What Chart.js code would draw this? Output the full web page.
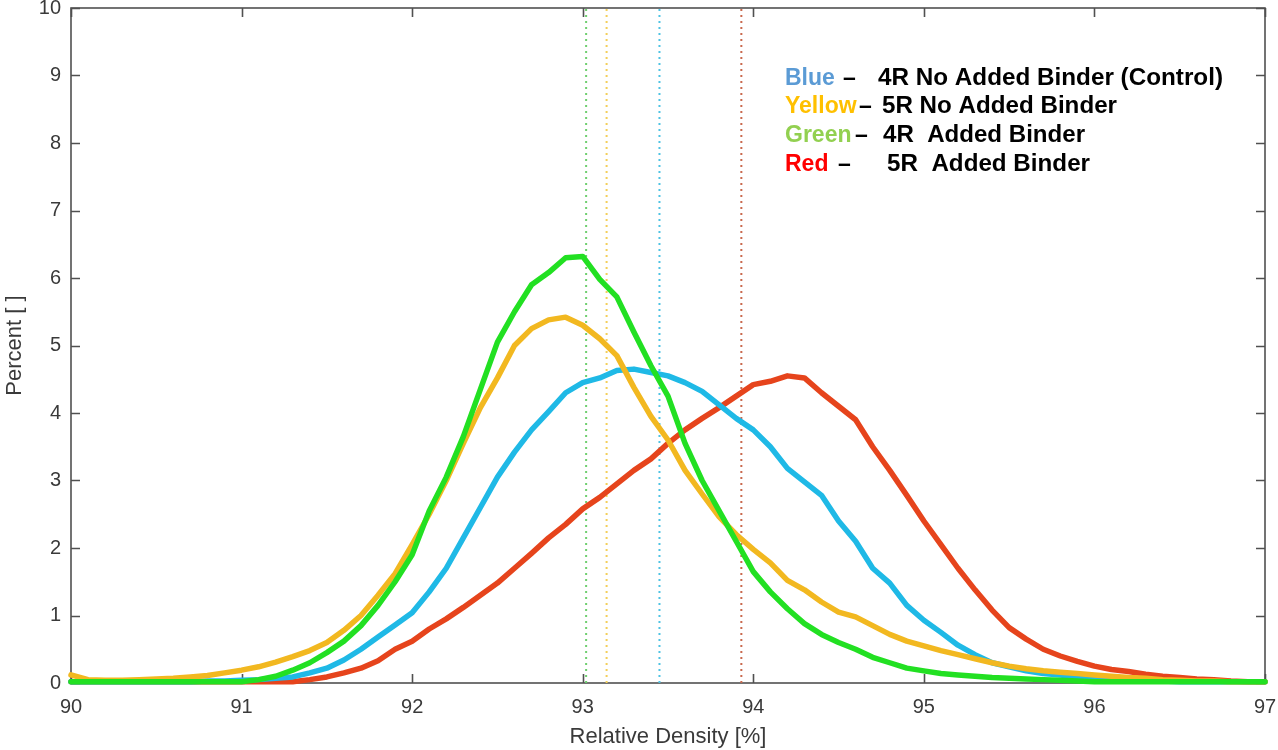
<!DOCTYPE html>
<html lang="en">
<head>
    <meta charset="UTF-8">
    <title>Relative Density</title>
    <script src="https://cdn.jsdelivr.net/npm/chart.js"></script>
    <style>
        html, body { margin: 0; padding: 0; background: #fff; }
        #wrap { width: 1278px; height: 750px; }
    </style>
</head>
<body>
    <div id="wrap"><canvas id="densityChart"></canvas></div>

    <script>
        // bins of relative density [%]
        const densityBins = [
            90.0, 90.1, 90.2, 90.3, 90.4, 90.5, 90.6, 90.7, 90.8, 90.9,
            91.0, 91.1, 91.2, 91.3, 91.4, 91.5, 91.6, 91.7, 91.8, 91.9,
            92.0, 92.1, 92.2, 92.3, 92.4, 92.5, 92.6, 92.7, 92.8, 92.9,
            93.0, 93.1, 93.2, 93.3, 93.4, 93.5, 93.6, 93.7, 93.8, 93.9,
            94.0, 94.1, 94.2, 94.3, 94.4, 94.5, 94.6, 94.7, 94.8, 94.9,
            95.0, 95.1, 95.2, 95.3, 95.4, 95.5, 95.6, 95.7, 95.8, 95.9,
            96.0, 96.1, 96.2, 96.3, 96.4, 96.5, 96.6, 96.7, 96.8, 96.9,
            97.0
        ];

        // Blue - 4R no added binder (control)
        const blueValues = [
            0.02, 0.02, 0.02, 0.02, 0.02, 0.02, 0.02, 0.02, 0.03, 0.03,
            0.04, 0.05, 0.07, 0.09, 0.15, 0.22, 0.34, 0.50, 0.68, 0.86,
            1.04, 1.35, 1.70, 2.15, 2.60, 3.05, 3.42, 3.75, 4.02, 4.30,
            4.45, 4.52, 4.63, 4.65, 4.60, 4.55, 4.45, 4.32, 4.12, 3.92,
            3.75, 3.50, 3.18, 2.98, 2.78, 2.40, 2.10, 1.70, 1.48, 1.15,
            0.93, 0.75, 0.56, 0.42, 0.30, 0.24, 0.18, 0.14, 0.12, 0.09,
            0.07, 0.05, 0.04, 0.03, 0.03, 0.02, 0.02, 0.02, 0.02, 0.02,
            0.02
        ];

        // Yellow - 5R no added binder
        const yellowValues = [
            0.12, 0.05, 0.04, 0.04, 0.05, 0.06, 0.07, 0.09, 0.11, 0.15,
            0.19, 0.24, 0.31, 0.39, 0.48, 0.60, 0.78, 1.00, 1.30, 1.62,
            2.05, 2.50, 3.00, 3.55, 4.08, 4.52, 5.00, 5.25, 5.38, 5.42,
            5.30, 5.10, 4.85, 4.38, 3.95, 3.60, 3.15, 2.80, 2.46, 2.20,
            1.98, 1.78, 1.52, 1.38, 1.20, 1.05, 0.98, 0.85, 0.72, 0.62,
            0.55, 0.48, 0.42, 0.36, 0.30, 0.25, 0.21, 0.18, 0.16, 0.14,
            0.12, 0.10, 0.08, 0.07, 0.05, 0.04, 0.03, 0.03, 0.02, 0.02,
            0.02
        ];

        // Green - 4R added binder
        const greenValues = [
            0.02, 0.02, 0.02, 0.02, 0.02, 0.02, 0.02, 0.02, 0.02, 0.02,
            0.02, 0.05, 0.10, 0.19, 0.30, 0.45, 0.62, 0.85, 1.15, 1.50,
            1.90, 2.55, 3.05, 3.65, 4.35, 5.05, 5.50, 5.90, 6.08, 6.30,
            6.32, 5.98, 5.72, 5.20, 4.70, 4.25, 3.55, 3.00, 2.55, 2.10,
            1.65, 1.35, 1.10, 0.88, 0.72, 0.60, 0.50, 0.38, 0.30, 0.22,
            0.18, 0.14, 0.12, 0.10, 0.08, 0.07, 0.06, 0.05, 0.04, 0.03,
            0.02, 0.02, 0.02, 0.02, 0.02, 0.02, 0.02, 0.02, 0.02, 0.02,
            0.02
        ];

        // Red - 5R added binder
        const redValues = [
            0.02, 0.02, 0.02, 0.02, 0.02, 0.02, 0.02, 0.02, 0.02, 0.02,
            0.02, 0.02, 0.02, 0.02, 0.05, 0.09, 0.15, 0.22, 0.33, 0.50,
            0.62, 0.80, 0.95, 1.12, 1.30, 1.48, 1.70, 1.92, 2.15, 2.35,
            2.58, 2.75, 2.95, 3.15, 3.32, 3.55, 3.75, 3.92, 4.08, 4.25,
            4.42, 4.47, 4.55, 4.52, 4.30, 4.10, 3.90, 3.50, 3.15, 2.78,
            2.40, 2.05, 1.70, 1.38, 1.08, 0.82, 0.65, 0.50, 0.40, 0.32,
            0.25, 0.20, 0.17, 0.13, 0.10, 0.08, 0.06, 0.05, 0.03, 0.02,
            0.02
        ];

        // mean relative density of each series (dotted lines)
        const meanNames = ['Blue', 'Yellow', 'Green', 'Red'];
        const meanValues = [93.45, 93.14, 93.02, 93.93];

        const xTicks = [90, 91, 92, 93, 94, 95, 96, 97];
        const yTicks = [0, 1, 2, 3, 4, 5, 6, 7, 8, 9, 10];

        // legend text (colour word, dash, description)
        const legendNames = ['Blue', 'Yellow', 'Green', 'Red'];
        const legendTexts = ['4R No Added Binder (Control)', '5R No Added Binder', '4R  Added Binder', '5R  Added Binder'];
        const legendNameColors = ['#5b9bd5', '#ffc000', '#92d050', '#ff0000'];
        // layout of the legend pieces: [nameX, dashX, textX, textEndX, baselineY]
        const legendLayout = [
            [785, 843, 878, 1223, 85],
            [785, 859, 882, 1117, 113],
            [785, 855, 883, 1085, 142],
            [785, 838, 887, 1090, 171]
        ];

        const lineColors = ['#1fb9e6', '#f2b820', '#22e022', '#e6441c'];
        const dotColors = ['#4fc3e3', '#f3cf5a', '#6fcf6f', '#c9694e'];

        function toPoints(vals) {
            return densityBins.map((b, i) => ({ x: b, y: vals[i] }));
        }

        const font = "'Liberation Sans', Arial, sans-serif";

        // MATLAB style box with inward ticks
        const boxTicks = {
            id: 'boxTicks',
            beforeDatasetsDraw(chart) {
                const { ctx, chartArea: a, scales: { x, y } } = chart;
                ctx.save();
                ctx.strokeStyle = '#505050';
                ctx.lineWidth = 1.6;
                ctx.strokeRect(a.left, a.top, a.right - a.left, a.bottom - a.top);
                const len = 9;
                ctx.beginPath();
                xTicks.forEach(v => {
                    const px = Math.round(x.getPixelForValue(v)) + 0.5;
                    ctx.moveTo(px, a.bottom); ctx.lineTo(px, a.bottom - len);
                    ctx.moveTo(px, a.top); ctx.lineTo(px, a.top + len);
                });
                yTicks.forEach(v => {
                    const py = Math.round(y.getPixelForValue(v)) + 0.5;
                    ctx.moveTo(a.left, py); ctx.lineTo(a.left + len, py);
                    ctx.moveTo(a.right, py); ctx.lineTo(a.right - len, py);
                });
                ctx.stroke();
                ctx.restore();
            }
        };

        function stretchText(ctx, str, x0, x1, y0) {
            const w = ctx.measureText(str).width;
            const k = (x1 - x0) / w;
            ctx.save();
            ctx.translate(x0, y0);
            ctx.scale(k, 1);
            ctx.fillText(str, 0, 0);
            ctx.restore();
        }

        const legendText = {
            id: 'legendText',
            afterDraw(chart) {
                const ctx = chart.ctx;
                ctx.save();
                ctx.font = 'bold 23px ' + font;
                ctx.textBaseline = 'alphabetic';
                legendNames.forEach((name, i) => {
                    const [nx, dx, tx, te, by] = legendLayout[i];
                    ctx.fillStyle = legendNameColors[i];
                    ctx.fillText(name, nx, by);
                    ctx.fillStyle = '#000';
                    ctx.fillText('\u2013', dx, by);
                    stretchText(ctx, legendTexts[i], tx, te, by);
                });
                ctx.restore();
            }
        };

        const datasets = [
            { label: 'Blue', data: toPoints(blueValues), borderColor: lineColors[0], order: 2 },
            { label: 'Yellow', data: toPoints(yellowValues), borderColor: lineColors[1], order: 1 },
            { label: 'Green', data: toPoints(greenValues), borderColor: lineColors[2], order: 0 },
            { label: 'Red', data: toPoints(redValues), borderColor: lineColors[3], order: 3 }
        ].map(d => Object.assign(d, {
            borderWidth: 5.5, pointRadius: 0, tension: 0, fill: false, clip: 8,
            borderCapStyle: 'round', borderJoinStyle: 'round'
        }));

        meanValues.forEach((m, i) => {
            datasets.push({
                label: meanNames[i] + ' mean',
                data: [{ x: m, y: 0 }, { x: m, y: 10 }],
                borderColor: dotColors[i],
                borderWidth: 2,
                borderDash: [2, 4],
                pointRadius: 0,
                order: 10 + i
            });
        });

        window.onload = function () {
            const ctx = document.getElementById('densityChart').getContext('2d');
            new Chart(ctx, {
                type: 'line',
                data: { datasets: datasets },
                options: {
                    responsive: true,
                    maintainAspectRatio: false,
                    animation: false,
                    layout: { padding: { top: 8, right: 13, left: 0, bottom: 0 } },
                    plugins: {
                        legend: { display: false },
                        tooltip: { enabled: false }
                    },
                    scales: {
                        x: {
                            type: 'linear',
                            min: 90, max: 97,
                            grid: { display: false, drawTicks: false },
                            border: { display: false },
                            ticks: {
                                stepSize: 1, padding: 12, color: '#3a3a3a',
                                font: { family: font, size: 20 }
                            },
                            title: {
                                display: true, text: 'Relative Density [%]', color: '#3a3a3a',
                                font: { family: font, size: 22 }, padding: { top: 4, bottom: 0 }
                            },
                            afterFit: s => { s.height = 67; s.paddingLeft = 0; s.paddingRight = 0; }
                        },
                        y: {
                            min: 0, max: 10,
                            grid: { display: false, drawTicks: false },
                            border: { display: false },
                            ticks: {
                                stepSize: 1, padding: 10, color: '#3a3a3a',
                                font: { family: font, size: 20 }
                            },
                            title: {
                                display: true, text: 'Percent [ ]', color: '#3a3a3a',
                                font: { family: font, size: 22 }, padding: { top: 2, bottom: 0 }
                            },
                            afterFit: s => { s.width = 71; s.paddingTop = 0; s.paddingBottom = 0; }
                        }
                    }
                },
                plugins: [boxTicks, legendText]
            });
        };
    </script>
</body>
</html>
